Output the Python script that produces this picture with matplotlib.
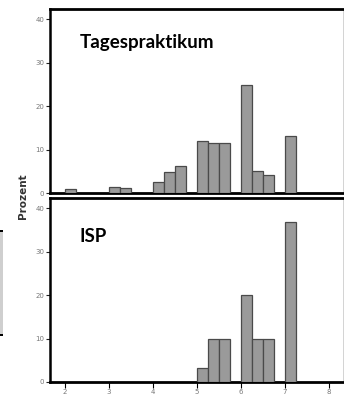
import numpy as np
import matplotlib.pyplot as plt
from matplotlib.patches import Rectangle

# bin left edges (width 0.25) and percentages
bin_width = 0.25
tp_edges = [2.0, 3.0, 3.25, 4.0, 4.25, 4.5, 5.0, 5.25, 5.5, 6.0, 6.25, 6.5, 7.0]
tp_pct = [0.9, 1.45, 1.2, 2.6, 4.8, 6.2, 12.0, 11.5, 11.5, 24.8, 5.0, 4.2, 13.2]
isp_edges = [5.0, 5.25, 5.5, 6.0, 6.25, 6.5, 7.0]
isp_pct = [3.3, 10.0, 10.0, 20.0, 10.0, 10.0, 36.7]
panel_titles = ["Tagespraktikum", "ISP"]
x_ticks = [2, 3, 4, 5, 6, 7, 8]
y_ticks = [0, 10, 20, 30, 40]

W, H = 344, 397
fig = plt.figure(figsize=(W / 100, H / 100), dpi=100)

def frac(x0, y0, x1, y1):
    return [x0 / W, 1 - y1 / H, (x1 - x0) / W, (y1 - y0) / H]

ax1 = fig.add_axes(frac(50, 9, 343, 193))
ax2 = fig.add_axes(frac(50, 198, 343, 382))

for ax, edges, pct, title, ty in [(ax1, tp_edges, tp_pct, panel_titles[0], 0.787),
                                  (ax2, isp_edges, isp_pct, panel_titles[1], 0.762)]:
    ax.bar(edges, pct, width=bin_width, align='edge', color='#9a9a9a',
           edgecolor='#4a4a4a', linewidth=0.9, zorder=3)
    ax.set_xlim(1.66, 8.32)
    ax.set_ylim(0, 42.3)
    ax.set_yticks(y_ticks)
    ax.set_yticklabels([str(v) for v in y_ticks])
    ax.tick_params(axis='y', direction='out', length=3, width=0.8,
                   labelsize=5, colors='#222222', labelcolor='#777777', pad=1)
    ax.spines['left'].set_linewidth(1.8)
    ax.spines['bottom'].set_linewidth(2.0)
    ax.spines['top'].set_linewidth(2.0)
    ax.spines['right'].set_linewidth(0.6)
    ax.spines['right'].set_color('#cccccc')
    ax.text(0.102, ty, title, transform=ax.transAxes,
            fontsize=13.5, fontweight='bold', family='Lato', va='baseline', ha='left')

ax1.set_xticks([])
ax2.set_xticks(x_ticks)
ax2.set_xticklabels([str(v) for v in x_ticks])
ax2.tick_params(axis='x', direction='out', length=4, width=0.8,
                labelsize=5, labelcolor='#777777', pad=1)

fig.text(23 / W, 1 - 196 / H, 'Prozent', rotation=90, fontsize=7.5,
         fontweight='bold', color='#333333', ha='center', va='center')

# remnant of a strip at the left edge
fig.patches.append(Rectangle((0, 1 - 335 / H), 2.5 / W, 105 / H,
                             transform=fig.transFigure, facecolor='#cfcfcf',
                             edgecolor='none'))
for yy in (230, 334):
    fig.patches.append(Rectangle((0, 1 - (yy + 1.5) / H), 3 / W, 2 / H,
                                 transform=fig.transFigure, facecolor='black',
                                 edgecolor='none'))

fig.savefig('out.png', dpi=100)
